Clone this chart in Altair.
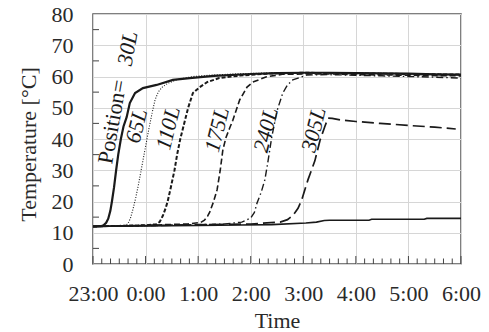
import json
import altair as alt
import pandas as pd

# ---- data (hours after 23:00, temperature in deg C) ----
hour_labels = ["23:00", "0:00", "1:00", "2:00", "3:00", "4:00", "5:00", "6:00"]
hour_values = [0, 1, 2, 3, 4, 5, 6, 7]
temp_ticks = [0, 10, 20, 30, 40, 50, 60, 70, 80]

h_30 = [0, 0.15, 0.2, 0.25, 0.29, 0.33, 0.36, 0.40, 0.44, 0.48, 0.53, 0.58, 0.64, 0.70, 0.80, 0.95,
        1.21, 1.52, 1.84, 2.3, 3.0, 3.5, 4.0, 4.5, 5.0, 5.5, 6.0, 6.5, 7.0]
t_30 = [12, 12.1, 12.4, 13.2, 14.5, 17, 20, 24.5, 30, 35, 40, 44, 47, 51.5, 54.7, 56.3,
        57.3, 58.9, 59.5, 60.2, 60.8, 61.1, 61.2, 61.2, 61.1, 61, 60.9, 60.7, 60.6]

h_65 = [0, 0.3, 0.6, 0.66, 0.71, 0.76, 0.81, 0.86, 0.91, 0.96, 1.01, 1.06, 1.12, 1.18, 1.24, 1.31,
        1.42, 1.6, 1.9, 2.3, 2.8, 3.5, 4.5, 5.5, 7.0]
t_65 = [12, 12.1, 12.3, 12.8, 14.5, 17.5, 21, 25, 29.5, 34, 38.5, 43, 48, 52.5, 55, 56.5,
        57.8, 59, 60, 60.5, 60.9, 61.2, 61.2, 61, 60.6]

h_110 = [0, 0.5, 1.0, 1.2, 1.27, 1.33, 1.38, 1.42, 1.48, 1.55, 1.60, 1.66, 1.75, 1.81, 1.9, 2.03,
         2.17, 2.4, 2.8, 3.3, 4.0, 5.0, 6.0, 7.0]
t_110 = [12, 12.2, 12.4, 12.7, 13.5, 15.5, 17.8, 20, 24.5, 30, 35, 40, 46, 50, 54.7, 56.6,
         58.2, 59.5, 60.3, 60.9, 61.2, 61, 60.8, 60.6]

h_175 = [0, 1.0, 1.8, 2.05, 2.12, 2.18, 2.22, 2.29, 2.36, 2.42, 2.47, 2.53, 2.6, 2.66, 2.79, 2.93,
         3.04, 3.3, 3.6, 4.0, 4.5, 5.0, 6.0, 7.0]
t_175 = [12, 12.4, 12.8, 13.3, 14, 15.3, 16.6, 19.8, 23.7, 30, 36.5, 40.5, 43.5, 46, 52.5, 56.6,
         58.2, 59.9, 60.7, 60.8, 60.8, 60.6, 60.4, 60.2]

h_240 = [0, 1.5, 2.5, 2.83, 3.0, 3.07, 3.12, 3.2, 3.27, 3.33, 3.4, 3.5, 3.61, 3.7, 3.8, 4.07,
         4.5, 5.0, 5.5, 6.0, 6.5, 7.0]
t_240 = [12, 12.4, 12.8, 13.4, 14.7, 16.5, 19.5, 23, 27, 33, 40.6, 49, 54.7, 57.3, 58.9, 60.5,
         60.6, 60.4, 60.2, 60, 59.8, 59.5]

h_305 = [0, 1.5, 3.0, 3.56, 3.7, 3.8, 3.9, 3.97, 4.09, 4.22, 4.32, 4.41, 4.47, 4.55, 4.7, 5.0,
         5.46, 6.03, 6.5, 6.9]
t_305 = [12, 12.4, 12.8, 13.4, 14.2, 15.5, 17.8, 20.5, 27, 33, 39.7, 44, 46.7, 46.6, 46.1, 45.6,
         45, 44.3, 43.8, 43.2]

h_base = [0, 1.0, 2.0, 2.8, 3.4, 4.05, 4.25, 4.4, 4.5, 5.25, 5.3, 6.3, 6.35, 7.0]
t_base = [12.1, 12.2, 12.3, 12.5, 12.6, 13.1, 13.4, 13.9, 14.0, 14.0, 14.3, 14.3, 14.6, 14.6]

label_text = ["30L", "65L", "110L", "175L", "240L", "305L"]
label_h = [0.66, 0.83, 1.43, 2.36, 3.29, 4.2]
label_t = [69.0, 44.2, 43.5, 43.0, 42.9, 43.0]
prefix_text = ["Position="]
prefix_h = [0.37]
prefix_t = [45.5]

minor_x = [k / 6 for k in range(1, 42) if k % 6 != 0]
minor_y = [5, 15, 25, 35, 45, 55, 65, 75]

# ---- build ----
FONT = "Liberation Serif"
INK = "#1a1a1a"

x_enc = alt.X("h:Q", title="Time",
              scale=alt.Scale(domain=[0, 7], nice=False, zero=False),
              axis=alt.Axis(values=hour_values,
                            labelExpr=json.dumps(hour_labels) + "[datum.value]",
                            labelOverlap=False, labelFlush=False,
                            labelBaseline="alphabetic", labelPadding=36,
                            titleBaseline="alphabetic", titleY=63))
y_enc = alt.Y("T:Q", title="Temperature [°C]",
              scale=alt.Scale(domain=[0, 80], nice=False),
              axis=alt.Axis(values=temp_ticks, labelPadding=20, labelOverlap=False,
                            labelFlush=False,
                            titleX=-58, titleY=130, titleBaseline="alphabetic",
                            titleAngle=270, titleAlign="center"))

series = [
    ("30L", h_30, t_30, dict(strokeWidth=2.2)),
    ("65L", h_65, t_65, dict(strokeWidth=1.1, strokeDash=[1, 1.6])),
    ("110L", h_110, t_110, dict(strokeWidth=2.0, strokeDash=[4, 2])),
    ("175L", h_175, t_175, dict(strokeWidth=1.6, strokeDash=[6, 3])),
    ("240L", h_240, t_240, dict(strokeWidth=1.4, strokeDash=[7, 3, 1.5, 3])),
    ("305L", h_305, t_305, dict(strokeWidth=1.7, strokeDash=[12, 5])),
    ("base", h_base, t_base, dict(strokeWidth=1.6)),
]

layers = []
for name, hs, ts, style in series:
    d = pd.DataFrame({"h": hs, "T": ts})
    layers.append(alt.Chart(d).mark_line(color=INK, **style).encode(x=x_enc, y=y_enc))

# inward minor ticks
tx = pd.DataFrame({"h": minor_x})
layers.append(alt.Chart(tx).mark_rule(color="#444", strokeWidth=1).encode(
    x=x_enc, y=alt.value(250), y2=alt.value(244.5)))
thx = pd.DataFrame({"h": hour_values})
layers.append(alt.Chart(thx).mark_rule(color="#444", strokeWidth=1).encode(
    x=x_enc, y=alt.value(250), y2=alt.value(242)))
ty = pd.DataFrame({"T": minor_y})
layers.append(alt.Chart(ty).mark_rule(color="#444", strokeWidth=1).encode(
    y=y_enc, x=alt.value(0), x2=alt.value(6)))

# curve labels
dp = pd.DataFrame({"h": prefix_h, "T": prefix_t, "txt": prefix_text})
layers.append(alt.Chart(dp).mark_text(font=FONT, fontSize=22, color=INK, angle=280,
                                      align="center", baseline="middle").encode(
    x=x_enc, y=y_enc, text="txt:N"))
d30 = pd.DataFrame({"h": label_h[:1], "T": label_t[:1], "txt": label_text[:1]})
layers.append(alt.Chart(d30).mark_text(font=FONT, fontSize=22, fontStyle="italic", color=INK,
                                       angle=280, align="center", baseline="middle").encode(
    x=x_enc, y=y_enc, text="txt:N"))
dl = pd.DataFrame({"h": label_h[1:], "T": label_t[1:], "txt": label_text[1:]})
layers.append(alt.Chart(dl).mark_text(font=FONT, fontSize=22, fontStyle="italic", color=INK,
                                      angle=284, align="center", baseline="middle").encode(
    x=x_enc, y=y_enc, text="txt:N"))

chart = alt.layer(*layers).properties(
    width=368, height=250,
    autosize=alt.AutoSizeParams(type="none"),
    padding={"left": 93, "top": 14, "right": 28, "bottom": 68},
).configure(
    font=FONT
).configure_view(
    stroke="#555", strokeWidth=1.5
).configure_axis(
    grid=True, gridColor="#d6d6d6", gridWidth=1,
    domain=False, ticks=False, tickSize=0,
    labelFont=FONT, labelFontSize=22, labelColor="#2a2a2a",
    titleFont=FONT, titleFontSize=22, titleFontWeight="normal", titleColor="#2a2a2a",
)

chart.save("out.html", embed_options={"renderer": "svg", "actions": False})
